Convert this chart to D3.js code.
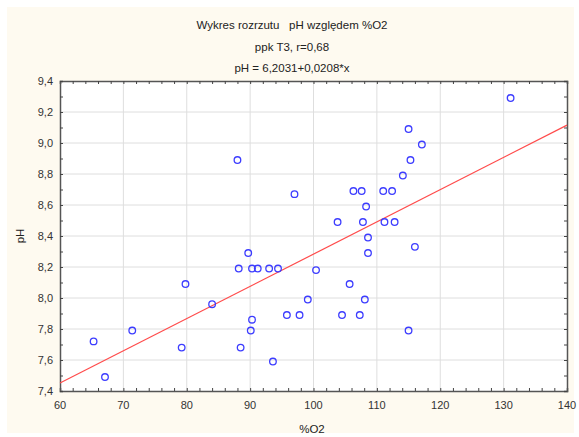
<!DOCTYPE html>
<html>
<head>
<meta charset="utf-8">
<script src="https://cdn.jsdelivr.net/npm/d3@7"></script>
<style>
  body { margin: 0; background: #ffffff; }
  svg { display: block; font-family: 'Liberation Sans', Arial, sans-serif; }
</style>
</head>
<body>
<div id="chart"></div>
<script>
// %O2 (x) and pH (y)
const o2 = [88.0, 97.0, 89.7, 88.2, 90.3, 91.2, 93.0, 94.4, 100.4, 79.8, 84.0,
  99.1, 95.8, 97.8, 90.3, 90.1, 71.4, 65.3, 79.2, 88.5, 93.6, 67.1, 131.1,
  115.0, 117.1, 115.3, 114.1, 106.3, 107.6, 111.0, 112.4, 108.3, 103.8, 107.8,
  111.2, 112.8, 108.6, 108.6, 116.0, 105.7, 108.1, 104.5, 107.3, 115.0]
const ph = [8.89, 8.67, 8.29, 8.19, 8.19, 8.19, 8.19, 8.19, 8.18, 8.09, 7.96,
  7.99, 7.89, 7.89, 7.86, 7.79, 7.79, 7.72, 7.68, 7.68, 7.59, 7.49, 9.29,
  9.09, 8.99, 8.89, 8.79, 8.69, 8.69, 8.69, 8.69, 8.59, 8.49, 8.49,
  8.49, 8.49, 8.39, 8.29, 8.33, 8.09, 7.99, 7.89, 7.89, 7.79]

const xTicks = [60, 70, 80, 90, 100, 110, 120, 130, 140]
const yTicks = [7.4, 7.6, 7.8, 8.0, 8.2, 8.4, 8.6, 8.8, 9.0, 9.2, 9.4]
const fit = { a: 6.2031, b: 0.0208 }
const titles = ['Wykres rozrzutu   pH względem %O2', 'ppk T3, r=0,68', 'pH = 6,2031+0,0208*x']

const W = 579, H = 437
const m = { left: 60, right: 12, top: 81, bottom: 46 }

const svg = d3.select('#chart').append('svg')
  .attr('width', W).attr('height', H)

// cream page background
svg.append('rect')
  .attr('x', 7).attr('y', 7).attr('width', W - 12).attr('height', H - 11)
  .attr('fill', '#fefaf0')

const x = d3.scaleLinear().domain([60, 140]).range([m.left, W - m.right])
const y = d3.scaleLinear().domain([7.4, 9.4]).range([H - m.bottom, m.top])

svg.append('rect')
  .attr('x', x(60)).attr('y', y(9.4))
  .attr('width', x(140) - x(60)).attr('height', y(7.4) - y(9.4))
  .attr('fill', '#ffffff')

// grid
svg.append('g').selectAll('line').data(xTicks.slice(1, -1)).join('line')
  .attr('x1', d => x(d)).attr('x2', d => x(d))
  .attr('y1', y(7.4)).attr('y2', y(9.4))
  .attr('stroke', '#dedede').attr('stroke-width', 1)
svg.append('g').selectAll('line').data(yTicks.slice(1, -1)).join('line')
  .attr('y1', d => y(d)).attr('y2', d => y(d))
  .attr('x1', x(60)).attr('x2', x(140))
  .attr('stroke', '#dedede').attr('stroke-width', 1)

// inward ticks on all four sides
const fmt = d => d3.format('.1f')(d).replace('.', ',')
const xMinor = d3.range(60, 140.01, 2)
const yMinor = d3.range(74, 94.01, 1).map(v => v / 10)

svg.append('g').attr('transform', `translate(0,${y(7.4)})`)
  .call(d3.axisBottom(x).tickValues(xMinor).tickSize(-3).tickFormat(''))
svg.append('g').attr('transform', `translate(0,${y(9.4)})`)
  .call(d3.axisTop(x).tickValues(xMinor).tickSize(-3).tickFormat(''))
svg.append('g').attr('transform', `translate(${x(60)},0)`)
  .call(d3.axisLeft(y).tickValues(yMinor).tickSize(-3).tickFormat(''))
svg.append('g').attr('transform', `translate(${x(140)},0)`)
  .call(d3.axisRight(y).tickValues(yMinor).tickSize(-3).tickFormat(''))

svg.selectAll('.domain').attr('stroke', '#555').attr('stroke-width', 1.5)
svg.selectAll('.tick line').attr('stroke', '#444')

// tick labels
svg.append('g').selectAll('text').data(xTicks).join('text')
  .attr('x', d => x(d)).attr('y', y(7.4) + 18)
  .attr('text-anchor', 'middle').attr('font-size', 11).attr('fill', '#333')
  .text(d => d)
svg.append('g').selectAll('text').data(yTicks).join('text')
  .attr('x', x(60) - 7).attr('y', d => y(d) + 4)
  .attr('text-anchor', 'end').attr('font-size', 11).attr('fill', '#333')
  .text(fmt)

// regression line
svg.append('line')
  .attr('x1', x(60)).attr('y1', y(fit.a + fit.b * 60))
  .attr('x2', x(140)).attr('y2', y(fit.a + fit.b * 140))
  .attr('stroke', '#ff4b4b').attr('stroke-width', 1.2)

// points
svg.append('g').selectAll('circle').data(o2).join('circle')
  .attr('cx', d => x(d)).attr('cy', (d, i) => y(ph[i]))
  .attr('r', 3.3)
  .attr('fill', 'none').attr('stroke', '#3c3cff').attr('stroke-width', 1.3)

// titles and axis names
svg.append('g').selectAll('text').data(titles).join('text')
  .attr('x', 292).attr('y', (d, i) => 29 + i * 21.5)
  .attr('text-anchor', 'middle').attr('font-size', 11.5).attr('fill', '#222')
  .attr('xml:space', 'preserve')
  .style('white-space', 'pre')
  .text(d => d)

svg.append('text')
  .attr('x', 312).attr('y', 433)
  .attr('text-anchor', 'middle').attr('font-size', 11.5).attr('fill', '#222')
  .text('%O2')

svg.append('text')
  .attr('transform', `translate(24,${(y(7.4) + y(9.4)) / 2}) rotate(-90)`)
  .attr('text-anchor', 'middle').attr('font-size', 11.5).attr('fill', '#222')
  .text('pH')
</script>
</body>
</html>
